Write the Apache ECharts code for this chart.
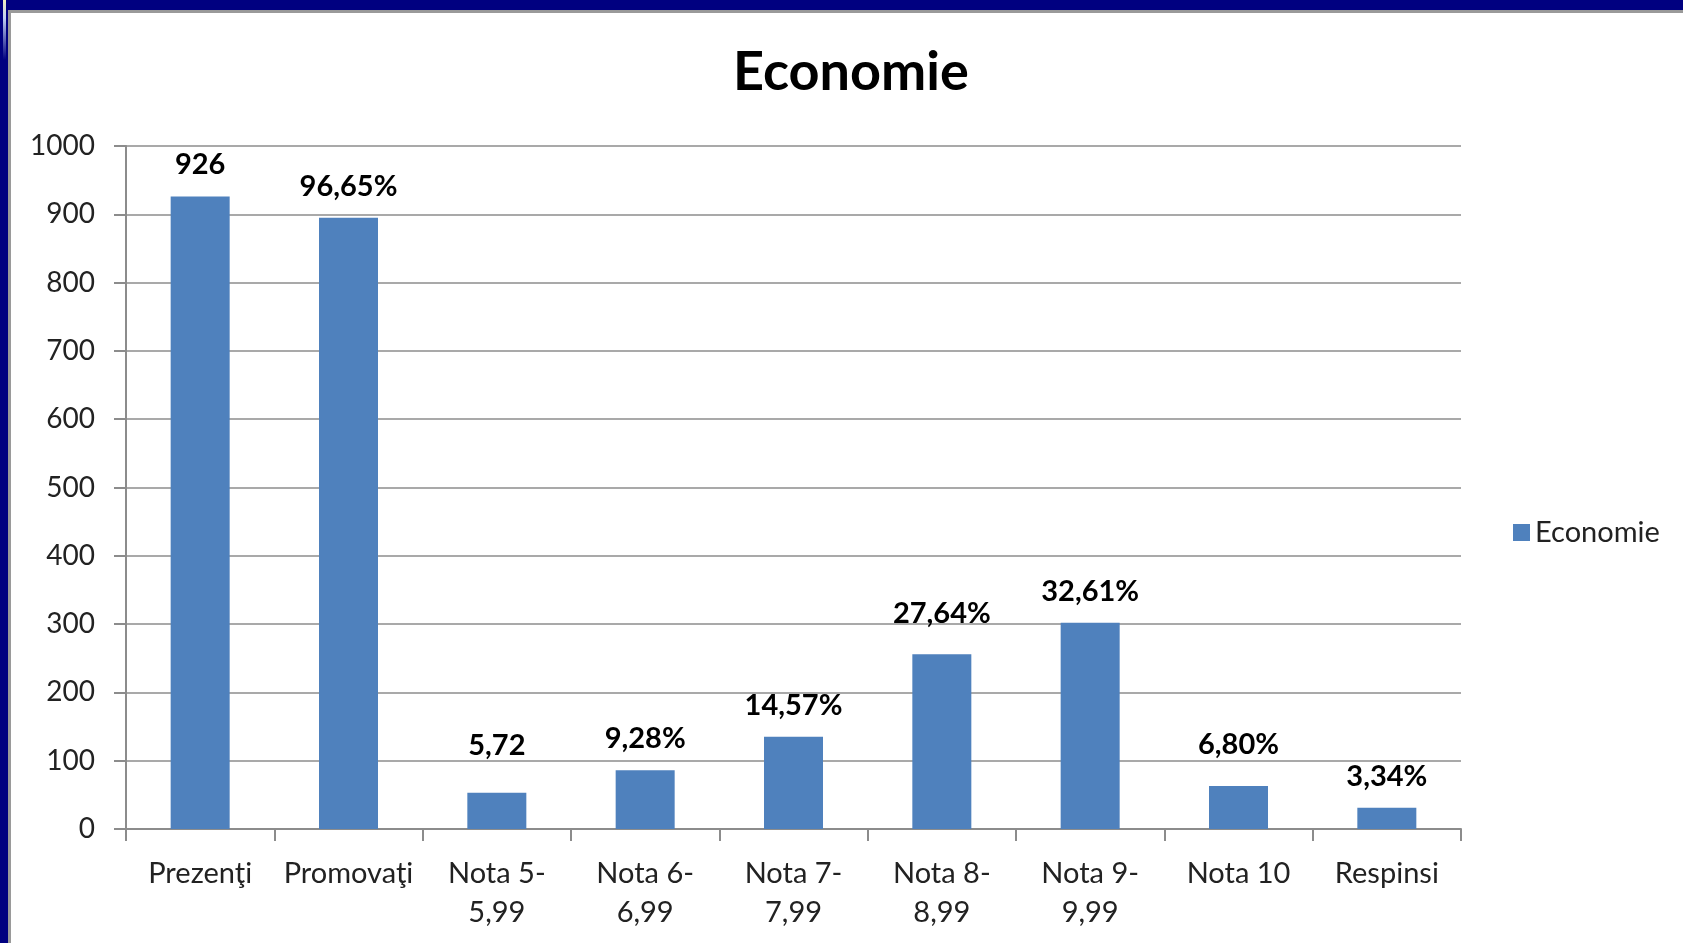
<!DOCTYPE html>
<html>
<head>
<meta charset="utf-8">
<style>
html,body{margin:0;padding:0;background:#fff;}
#c{width:1683px;height:943px;}
</style>
<script src="https://cdn.jsdelivr.net/npm/echarts@6/dist/echarts.min.js"></script>
</head>
<body>
<div id="c"></div>
<script>
const titleText = 'Economie';
const seriesName = 'Economie';
const categories = ['Prezenţi', 'Promovaţi', 'Nota 5-\n5,99', 'Nota 6-\n6,99', 'Nota 7-\n7,99', 'Nota 8-\n8,99', 'Nota 9-\n9,99', 'Nota 10', 'Respinsi'];
const values = [926, 895, 53, 86, 135, 256, 302, 63, 31];
const valueLabels = ['926', '96,65%', '5,72', '9,28%', '14,57%', '27,64%', '32,61%', '6,80%', '3,34%'];
const yMin = 0, yMax = 1000, yStep = 100;
// extra upward nudge of some data labels (as placed in the original)
const labelLift = [0, 0, 16, 0, 0, 9, 0, 10, 0];

const FONT = 'Lato';
const chart = echarts.init(document.getElementById('c'), null, {renderer: 'canvas'});
chart.setOption({
  backgroundColor: '#ffffff',
  animation: false,
  title: {
    text: titleText,
    left: 728,
    top: 41,
    textStyle: {fontFamily: FONT, fontSize: 54, fontWeight: 'bold', color: '#000'}
  },
  legend: {
    data: [seriesName],
    left: 1508,
    top: 513,
    orient: 'vertical',
    icon: 'rect',
    itemWidth: 17,
    itemHeight: 17,
    itemGap: 8,
    textStyle: {fontFamily: FONT, fontSize: 29, color: '#222'}
  },
  grid: {left: 126, right: 222, top: 146, bottom: 114, containLabel: false},
  xAxis: {
    type: 'category',
    data: categories,
    boundaryGap: true,
    axisLine: {lineStyle: {color: '#8c8c8c', width: 2}},
    axisTick: {show: true, alignWithLabel: false, length: 12, lineStyle: {color: '#8c8c8c', width: 2}},
    axisLabel: {fontFamily: FONT, fontSize: 29, color: '#222', margin: 25, lineHeight: 39, interval: 0}
  },
  yAxis: {
    type: 'value',
    min: yMin, max: yMax, interval: yStep,
    axisLine: {show: true, lineStyle: {color: '#8c8c8c', width: 2}},
    axisTick: {show: true, length: 12, lineStyle: {color: '#8c8c8c', width: 2}},
    splitLine: {show: true, lineStyle: {color: '#8c8c8c', width: 1.5}},
    axisLabel: {fontFamily: FONT, fontSize: 28, color: '#222', margin: 31, formatter: v => String(v)}
  },
  series: [{
    name: seriesName,
    type: 'bar',
    data: values.map((v, i) => ({value: v, label: {distance: 17 + labelLift[i]}})),
    barWidth: 59,
    itemStyle: {color: '#4F81BD'},
    label: {
      show: true,
      position: 'top',
      distance: 17,
      fontFamily: FONT,
      fontSize: 29,
      fontWeight: 'bold',
      color: '#000',
      formatter: p => valueLabels[p.dataIndex]
    }
  }],
  graphic: [
    {type: 'rect', shape: {x: 0, y: 0, width: 1683, height: 10}, style: {fill: '#000080'}, z: 100},
    {type: 'rect', shape: {x: 0, y: 10, width: 1683, height: 3}, style: {fill: '#9a9a9a'}, z: 100},
    {type: 'rect', shape: {x: 0, y: 0, width: 8, height: 943}, style: {fill: '#000080'}, z: 101},
    {type: 'rect', shape: {x: 3, y: 0, width: 3, height: 60}, style: {fill: new echarts.graphic.LinearGradient(0,0,0,1,[{offset:0,color:'#f0f0c0'},{offset:0.3,color:'#c0d0f0'},{offset:1,color:'#000080'}])}, z: 102},
    {type: 'rect', shape: {x: 8, y: 10, width: 3, height: 933}, style: {fill: '#9a9a9a'}, z: 101}
  ]
});
</script>
</body>
</html>
